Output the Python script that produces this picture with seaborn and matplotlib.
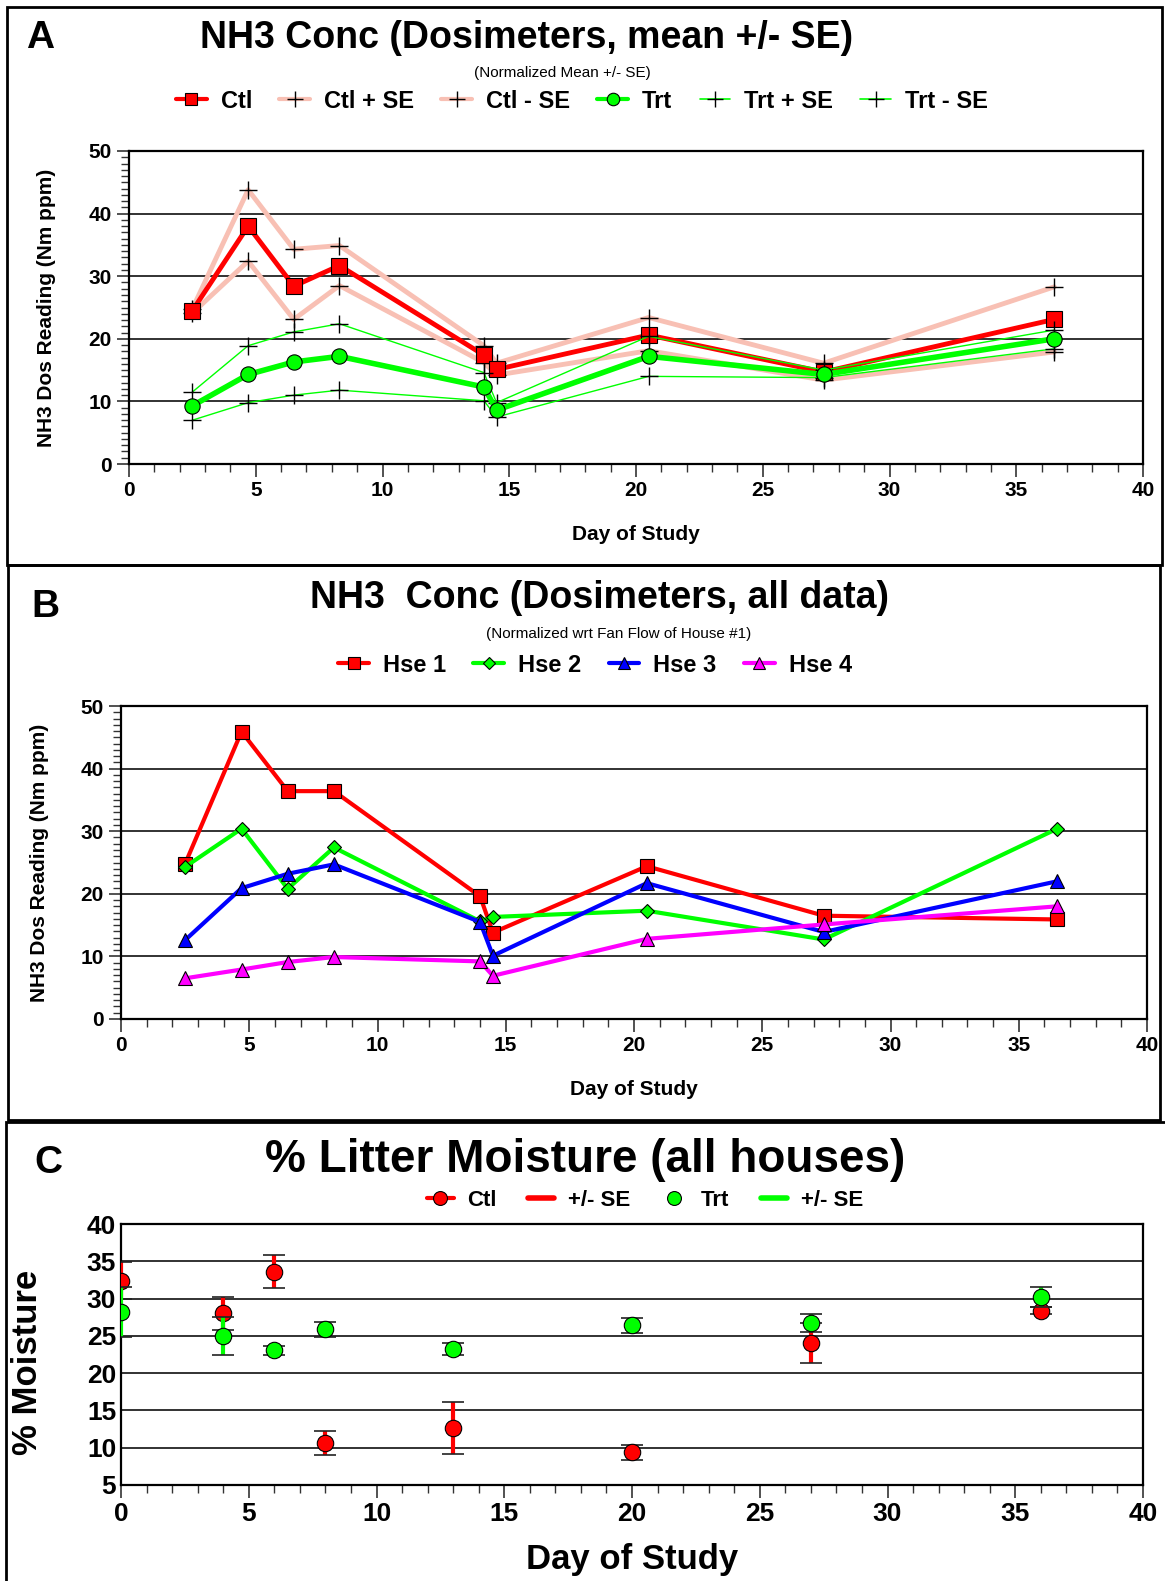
import numpy as np
import pandas as pd
import matplotlib
matplotlib.use("Agg")
import matplotlib.pyplot as plt
from matplotlib.lines import Line2D
from matplotlib.patches import Rectangle
from matplotlib.ticker import MultipleLocator
import seaborn as sns

# ---------------- data ----------------
days_a = [2.5, 4.7, 6.5, 8.3, 14.0, 14.5, 20.5, 27.4, 36.5]
ctl = [24.5, 38.0, 28.4, 31.7, 17.4, 15.1, 20.6, 14.7, 23.1]
ctl_plus = [24.8, 43.8, 34.3, 34.9, 18.9, 16.1, 23.4, 16.1, 28.3]
ctl_minus = [24.1, 32.4, 23.1, 28.5, 16.2, 14.2, 18.1, 13.4, 17.9]
trt = [9.3, 14.3, 16.3, 17.2, 12.3, 8.6, 17.2, 14.3, 20.0]
trt_plus = [11.5, 18.9, 21.1, 22.4, 14.6, 9.8, 20.4, 15.0, 21.4]
trt_minus = [7.0, 9.8, 11.0, 11.8, 10.1, 7.5, 14.0, 13.8, 18.4]

days_b = [2.5, 4.7, 6.5, 8.3, 14.0, 14.5, 20.5, 27.4, 36.5]
hse1 = [24.8, 45.9, 36.4, 36.4, 19.6, 13.8, 24.4, 16.5, 15.9]
hse2 = [24.3, 30.4, 20.8, 27.4, 15.6, 16.3, 17.3, 12.7, 30.4]
hse3 = [12.6, 20.9, 23.2, 24.7, 15.5, 10.1, 21.7, 13.9, 22.0]
hse4 = [6.5, 7.9, 9.1, 9.9, 9.2, 6.9, 12.8, 15.1, 18.0]

days_c = [0, 4, 6, 8, 13, 20, 27, 36]
ctl_moist = [32.4, 28.0, 33.6, 10.6, 12.6, 9.4, 24.0, 28.4]
ctl_moist_se = [2.5, 2.2, 2.2, 1.6, 3.5, 1.0, 2.7, 0.5]
trt_moist = [28.2, 25.0, 23.1, 25.9, 23.3, 26.4, 26.7, 30.2]
trt_moist_se = [3.3, 2.5, 0.6, 1.0, 0.8, 1.0, 1.2, 1.3]

x_ticks = [0, 5, 10, 15, 20, 25, 30, 35, 40]

# ---------------- style ----------------
sns.set_style("white")
FONT = ["Liberation Sans", "DejaVu Sans"]
plt.rcParams["font.family"] = FONT
plt.rcParams["font.weight"] = "bold"
for k in ["text.color", "axes.labelcolor", "xtick.color", "ytick.color"]:
    plt.rcParams[k] = "black"

W, H = 1165, 1581
fig = plt.figure(figsize=(W / 100, H / 100), dpi=100)

RED = "#FF0000"
PINK = "#F8C0B4"
GREEN = "#00FF00"
BLUE = "#0000FF"
MAGENTA = "#FF00FF"


def fax(l, r, t, b):
    return fig.add_axes([l / W, 1 - b / H, (r - l) / W, (b - t) / H])


def style_axes(ax, ymin, ymax, ystep, yminor, tick_fs):
    ax.set_xlim(0, 40)
    ax.set_ylim(ymin, ymax)
    ax.set_xticks(x_ticks)
    ax.xaxis.set_minor_locator(MultipleLocator(1))
    ax.set_yticks(np.arange(ymin, ymax + 0.1, ystep))
    if yminor:
        ax.yaxis.set_minor_locator(MultipleLocator(yminor))
    ax.grid(axis="y", color="#222222", lw=1.3)
    ax.grid(axis="x", visible=False)
    ax.set_axisbelow(True)
    for s in ax.spines.values():
        s.set_visible(True)
        s.set_color("black")
        s.set_linewidth(1.6)
    ax.tick_params(axis="both", which="major", direction="out", length=9,
                   width=1.2, color="#333333", labelsize=tick_fs, labelcolor="black",
                   bottom=True, left=True)
    ax.tick_params(axis="both", which="minor", direction="out", length=6,
                   width=1.0, color="#333333", bottom=True, left=True)
    for lab in ax.get_xticklabels() + ax.get_yticklabels():
        lab.set_fontweight("bold")


LEG = dict(frameon=False, handlelength=1.3, handletextpad=0.6, columnspacing=1.15)

# ================= Panel A =================
axA = fax(129, 1143, 151, 464)
pk = dict(marker="+", markersize=13, markeredgecolor="black", markeredgewidth=1.0)
sns.lineplot(x=days_a, y=ctl_plus, ax=axA, color=PINK, lw=3.5, sort=False, estimator=None, **pk)
sns.lineplot(x=days_a, y=ctl_minus, ax=axA, color=PINK, lw=3.5, sort=False, estimator=None, **pk)
sns.lineplot(x=days_a, y=ctl, ax=axA, color=RED, lw=3.5, sort=False, estimator=None,
             marker="s", markersize=11, markeredgecolor="black", markeredgewidth=0.8)
sns.lineplot(x=days_a, y=trt_plus, ax=axA, color=GREEN, lw=1.0, sort=False, estimator=None, **pk)
sns.lineplot(x=days_a, y=trt_minus, ax=axA, color=GREEN, lw=1.0, sort=False, estimator=None, **pk)
sns.lineplot(x=days_a, y=trt, ax=axA, color=GREEN, lw=4.0, sort=False, estimator=None,
             marker="o", markersize=11, markeredgecolor="black", markeredgewidth=0.8)
style_axes(axA, 0, 50, 10, 1, 15)
axA.set_xlabel("Day of Study", fontsize=15, fontweight="bold", labelpad=18)
axA.set_ylabel("NH3 Dos Reading (Nm ppm)", fontsize=15, fontweight="bold")
axA.yaxis.set_label_coords((56 - 129) / 1014, 0.5)

fig.text(40 / W, 1 - 38 / H, "A", fontsize=28, fontweight="bold", ha="center", va="center")
fig.text(527 / W, 1 - 38 / H, "NH3 Conc (Dosimeters, mean +/- SE)", fontsize=27,
         fontweight="bold", ha="center", va="center")
fig.text(562 / W, 1 - 73 / H, "(Normalized Mean +/- SE)", fontsize=11,
         fontweight="normal", ha="center", va="center")
hA = [
    Line2D([], [], color=RED, lw=3, marker="s", ms=9, mec="black", mew=0.8),
    Line2D([], [], color=PINK, lw=3, marker="+", ms=11, mec="black", mew=1),
    Line2D([], [], color=PINK, lw=3, marker="+", ms=11, mec="black", mew=1),
    Line2D([], [], color=GREEN, lw=3, marker="o", ms=9, mec="black", mew=0.8),
    Line2D([], [], color=GREEN, lw=1.2, marker="+", ms=11, mec="black", mew=1),
    Line2D([], [], color=GREEN, lw=1.2, marker="+", ms=11, mec="black", mew=1),
]
lA = ["Ctl", "Ctl + SE", "Ctl - SE", "Trt", "Trt + SE", "Trt - SE"]
fig.legend(hA, lA, loc="center", bbox_to_anchor=(582 / W, 1 - 101 / H), ncol=6,
           prop={"weight": "bold", "size": 17, "family": FONT}, **LEG)

# ================= Panel B =================
axB = fax(121, 1147, 706, 1019)
sns.lineplot(x=days_b, y=hse1, ax=axB, color=RED, lw=3.0, sort=False, estimator=None,
             marker="s", markersize=10, markeredgecolor="black", markeredgewidth=0.8)
sns.lineplot(x=days_b, y=hse2, ax=axB, color=GREEN, lw=3.0, sort=False, estimator=None,
             marker="D", markersize=7, markeredgecolor="black", markeredgewidth=0.8)
sns.lineplot(x=days_b, y=hse3, ax=axB, color=BLUE, lw=3.0, sort=False, estimator=None,
             marker="^", markersize=10, markeredgecolor="black", markeredgewidth=0.8)
sns.lineplot(x=days_b, y=hse4, ax=axB, color=MAGENTA, lw=3.0, sort=False, estimator=None,
             marker="^", markersize=10, markeredgecolor="black", markeredgewidth=0.8)
style_axes(axB, 0, 50, 10, 1, 15)
axB.set_xlabel("Day of Study", fontsize=15, fontweight="bold", labelpad=18)
axB.set_ylabel("NH3 Dos Reading (Nm ppm)", fontsize=15, fontweight="bold")
axB.yaxis.set_label_coords((49 - 121) / 1026, 0.5)

fig.text(45 / W, 1 - 607 / H, "B", fontsize=28, fontweight="bold", ha="center", va="center")
fig.text(600 / W, 1 - 598 / H, "NH3  Conc (Dosimeters, all data)", fontsize=27,
         fontweight="bold", ha="center", va="center")
fig.text(619 / W, 1 - 634 / H, "(Normalized wrt Fan Flow of House #1)", fontsize=11,
         fontweight="normal", ha="center", va="center")
hB = [
    Line2D([], [], color=RED, lw=3, marker="s", ms=9, mec="black", mew=0.8),
    Line2D([], [], color=GREEN, lw=3, marker="D", ms=6, mec="black", mew=0.8),
    Line2D([], [], color=BLUE, lw=3, marker="^", ms=9, mec="black", mew=0.8),
    Line2D([], [], color=MAGENTA, lw=3, marker="^", ms=9, mec="black", mew=0.8),
]
lB = ["Hse 1", "Hse 2", "Hse 3", "Hse 4"]
fig.legend(hB, lB, loc="center", bbox_to_anchor=(595 / W, 1 - 665 / H), ncol=4,
           prop={"weight": "bold", "size": 17, "family": FONT}, **LEG)

# ================= Panel C =================
axC = fax(121, 1143, 1224, 1485)
ebc = axC.errorbar(days_c, ctl_moist, yerr=ctl_moist_se, fmt="none", ecolor=RED,
                   elinewidth=3, capsize=8, capthick=1.2, zorder=3)
for cap in ebc[1]:
    cap.set_markeredgecolor("#222222")
    cap.set_color("#222222")
sns.scatterplot(x=days_c, y=ctl_moist, ax=axC, color=RED, s=140, marker="o",
                edgecolor="black", linewidth=0.8, zorder=4)
ebt = axC.errorbar(days_c, trt_moist, yerr=trt_moist_se, fmt="none", ecolor=GREEN,
                   elinewidth=3, capsize=8, capthick=1.2, zorder=5)
for cap in ebt[1]:
    cap.set_markeredgecolor("#222222")
    cap.set_color("#222222")
sns.scatterplot(x=days_c, y=trt_moist, ax=axC, color=GREEN, s=140, marker="o",
                edgecolor="black", linewidth=0.8, zorder=6)
style_axes(axC, 5, 40, 5, None, 19)
axC.tick_params(axis="y", which="major", length=0)
axC.set_xlabel("Day of Study", fontsize=25, fontweight="bold", labelpad=12)
axC.set_ylabel("% Moisture", fontsize=25, fontweight="bold")
axC.yaxis.set_label_coords((44 - 121) / 1022, 0.47)

fig.text(48 / W, 1 - 1163 / H, "C", fontsize=28, fontweight="bold", ha="center", va="center")
fig.text(585 / W, 1 - 1160 / H, "% Litter Moisture (all houses)", fontsize=33,
         fontweight="bold", ha="center", va="center")
hC = [
    Line2D([], [], color=RED, lw=3, marker="o", ms=10, mec="black", mew=0.8),
    Line2D([], [], color=RED, lw=4),
    Line2D([], [], color="none", lw=0, marker="o", ms=10, mfc=GREEN, mec="black", mew=0.8),
    Line2D([], [], color=GREEN, lw=4),
]
lC = ["Ctl", "+/- SE", "Trt", "+/- SE"]
fig.legend(hC, lC, loc="center", bbox_to_anchor=(645 / W, 1 - 1200 / H), ncol=4,
           frameon=False, handlelength=1.2, handletextpad=0.6, columnspacing=1.4,
           prop={"weight": "bold", "size": 16, "family": FONT})

# ---------------- panel borders ----------------
for (l, t, r, b) in [(7, 7, 1162, 565), (8, 565, 1160, 1120), (6, 1122, 1168, 1590)]:
    fig.add_artist(Rectangle((l / W, 1 - b / H), (r - l) / W, (b - t) / H,
                             transform=fig.transFigure, fill=False,
                             edgecolor="black", lw=2.0))

fig.savefig("out.png", dpi=100)
